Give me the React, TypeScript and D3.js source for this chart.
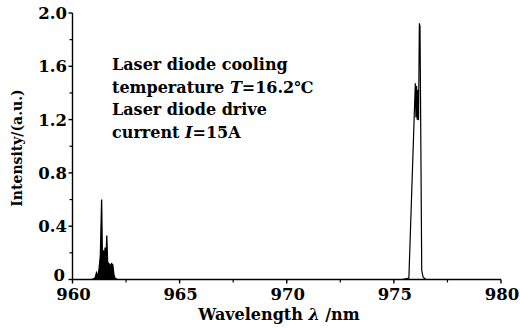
import React from "react";
import * as d3 from "d3";

const xTicks = [960, 965, 970, 975, 980];
const xMinor = [962.5, 967.5, 972.5, 977.5];
const yTicks = [0, 0.4, 0.8, 1.2, 1.6, 2.0];
const yTickLabels = ["0", "0.4", "0.8", "1.2", "1.6", "2.0"];
const yMinor = [0.2, 0.6, 1.0, 1.4, 1.8];

// cluster near 961.5 nm (drawn filled)
const clusterA: [number, number][] = [
  [960.9, 0], [961.05, 0.01], [961.12, 0.05], [961.18, 0.02], [961.24, 0.08],
  [961.3, 0.18], [961.36, 0.6], [961.4, 0.12], [961.44, 0.22], [961.48, 0.14],
  [961.52, 0.24], [961.56, 0.12], [961.6, 0.33], [961.64, 0.13], [961.7, 0.12],
  [961.76, 0.1], [961.82, 0.12], [961.88, 0.11], [961.93, 0.04], [961.98, 0.01], [962.1, 0],
];
// peak near 976.2 nm (drawn as outline)
const clusterB: [number, number][] = [
  [975.4, 0], [975.7, 0.01], [976.0, 1.47], [976.03, 1.22], [976.06, 1.45],
  [976.09, 1.2], [976.12, 1.42], [976.15, 1.2], [976.19, 1.92], [976.22, 1.9],
  [976.3, 0.07], [976.36, 0.02], [976.48, 0], [977.0, 0],
];

const W = 520, H = 333;
const x = d3.scaleLinear().domain([960, 980]).range([72.5, 501]);
const y = d3.scaleLinear().domain([0, 2]).range([279.5, 13]);

const font = "'DejaVu Serif', 'Liberation Serif', serif";

export default function App() {
  const line = d3.line<[number, number]>().x(d => x(d[0])).y(d => y(d[1]));
  const area = d3.area<[number, number]>().x(d => x(d[0])).y0(y(0)).y1(d => y(d[1]));
  return (
    <svg width={W} height={H} style={{ position: "absolute", left: 0, top: 0, background: "#fff" }}
      fontFamily={font}>
      <rect width={W} height={H} fill="#fff" />
      {/* spectrum */}
      <path d={area(clusterA)!} fill="#000" />
      <path d={line(clusterA)!} fill="none" stroke="#000" strokeWidth={1.3} />
      <path d={line(clusterB)!} fill="none" stroke="#000" strokeWidth={1.2} strokeLinejoin="round" />
      {/* axes */}
      <line x1={x(960)} x2={x(980)} y1={y(0)} y2={y(0)} stroke="#000" strokeWidth={1.6} />
      <line x1={x(960)} x2={x(960)} y1={y(0)} y2={y(2)} stroke="#000" strokeWidth={1.4} />
      {xTicks.map(t => (
        <g key={"xt" + t}>
          <line x1={x(t)} x2={x(t)} y1={y(0)} y2={y(0) + 4} stroke="#000" strokeWidth={1.4} />
          <text x={x(t) + 1} y={300} textAnchor="middle" fontSize={16.5} fontWeight="bold">{t}</text>
        </g>
      ))}
      {xMinor.map(t => (
        <line key={"xm" + t} x1={x(t)} x2={x(t)} y1={y(0)} y2={y(0) + 3} stroke="#000" strokeWidth={1.2} />
      ))}
      {yTicks.map((t, i) => (
        <g key={"yt" + t}>
          <line x1={x(960) - 4} x2={x(960)} y1={y(t)} y2={y(t)} stroke="#000" strokeWidth={1.4} />
          <text x={t === 0 ? 65 : 67} y={y(t) - (t === 0 ? 4 : 0)} dy="0.36em" textAnchor="end" fontSize={16.5} fontWeight="bold">{yTickLabels[i]}</text>
        </g>
      ))}
      {yMinor.map(t => (
        <line key={"ym" + t} x1={x(960) - 3} x2={x(960)} y1={y(t)} y2={y(t)} stroke="#000" strokeWidth={1.2} />
      ))}
      {/* axis titles */}
      <text x={279} y={320} textAnchor="middle" fontSize={16} fontWeight="bold">
        Wavelength <tspan fontStyle="italic">λ</tspan> /nm
      </text>
      <text transform="translate(22,148) rotate(-90)" textAnchor="middle" fontSize={14} fontWeight="bold">
        Intensity/(a.u.)
      </text>
      {/* annotation */}
      <g fontSize={16} fontWeight="bold">
        <text x={112} y={70}>Laser diode cooling</text>
        <text x={112} y={92.5}>temperature <tspan fontStyle="italic">T</tspan>=16.2℃</text>
        <text x={112} y={115}>Laser diode drive</text>
        <text x={112} y={137.5}>current <tspan fontStyle="italic">I</tspan>=15A</text>
      </g>
    </svg>
  );
}
